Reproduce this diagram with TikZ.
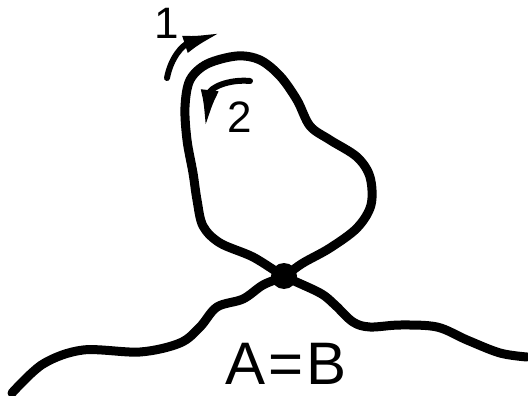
\documentclass[tikz,border=0pt]{standalone}
\usepackage{fontspec}
\setmainfont{Liberation Sans}
\usetikzlibrary{arrows.meta}
\begin{document}
\begin{tikzpicture}[x=1pt,y=-1pt,
  curve/.style={line width=9pt,line cap=round,line join=round},
  turn/.style={line width=6pt,line cap=round,-{Latex[length=40pt,width=18pt]}},
  lab/.style={font=\fontsize{44}{44}\selectfont,inner sep=0pt}]
\useasboundingbox (0,0) rectangle (528,396);
\node[circle,fill,inner sep=0pt,minimum size=26pt] (X) at (284,276) {};
\draw[curve] plot[smooth,tension=0.55] coordinates {
 (12,393) (43,364) (83,350) (140,352) (180,343) (200,327) (217,307) (243,299) (263,285)
 (284,276) (303,263) (330,248) (357,228) (371,205) (370,177) (357,157) (330,140) (310,126)
 (297,100) (280,76) (260,60) (237,56) (207,64) (190,80) (185,107) (187,140) (193,173)
 (197,200) (203,226) (220,243) (253,257) (284,276) (320,293) (335,305) (353,322) (370,327)
 (400,325) (437,327) (467,340) (500,353) (527,357)};
\coordinate (a1s) at (167,78);
\coordinate (a1e) at (223,32);
\draw[turn] (a1s) .. controls (171,57) and (183,45) .. (a1e);
\coordinate (a2s) at (250,81);
\coordinate (a2e) at (205,130);
\draw[turn] (a2s) .. controls (228,79) and (210,88) .. (a2e);
\node[lab] (one) at (167,23) {1};
\node[lab] (two) at (240,117) {2};
\node[font=\fontsize{60}{60}\selectfont,inner sep=0pt] (ab) at (286,364) {A\kern3pt=\kern3pt B};
\end{tikzpicture}
\end{document}
